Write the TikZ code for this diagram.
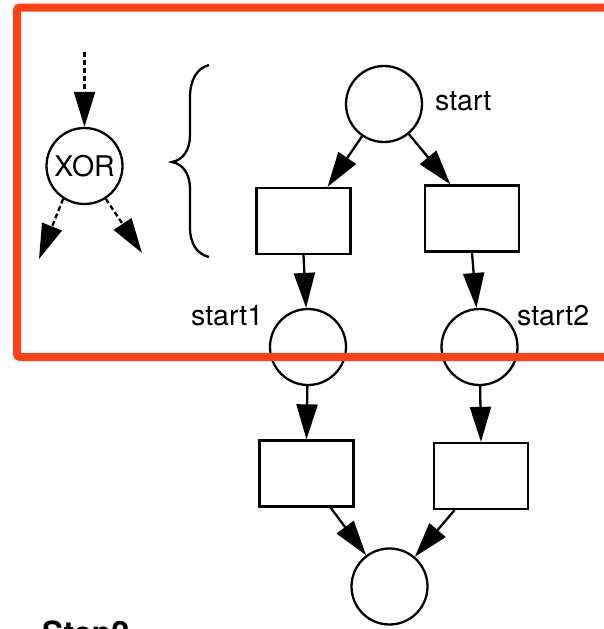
\documentclass[tikz,border=0pt]{standalone}
\usepackage{fontspec}
\setsansfont{TeX Gyre Heros}
\usetikzlibrary{arrows.meta, calc}

\definecolor{framered}{RGB}{255,66,22}

\begin{document}
\begin{tikzpicture}[x=1pt, y=-1pt,
    place/.style={draw, circle, line width=2.3pt, minimum size=76pt, inner sep=0pt,
      font=\sffamily\fontsize{28.5}{32}\selectfont},
    trans/.style={draw, rectangle, line width=2.3pt, minimum width=94pt, minimum height=66pt, inner sep=0pt},
    arc/.style={line width=2.3pt, -{Triangle[length=35pt, width=21pt]}},
    xorarc/.style={arc, dash pattern=on 5pt off 3pt},
    lbl/.style={font=\sffamily\fontsize{28.5}{32}\selectfont, anchor=base west, inner sep=0pt}]
  \useasboundingbox (0,0) rectangle (604,629);
  \clip (0,0) rectangle (604,629);

  % XOR split shorthand
  \node[place] (xor) at (84.5,166) {XOR};
  \coordinate (xin) at (84.5,52);
  \coordinate (xleft) at (39,259);
  \coordinate (xright) at (142,253);
  \draw[xorarc] (xin) -- (xor);
  \draw[xorarc] (xor.237) -- (xleft);
  \draw[xorarc] (xor.303) -- (xright);

  % Brace
  \draw[line width=2.3pt] (209,65) .. controls (197,68) and (190,80) .. (190,97) -- (190,135)
    .. controls (190,150) and (183,160) .. (172,162)
    .. controls (183,164) and (190,174) .. (190,189) -- (190,227)
    .. controls (190,244) and (197,254) .. (209,257);

  % Net
  \node[place] (start) at (384,104) {};
  \node[trans] (t1) at (303.5,221) {};
  \node[trans] (t2) at (472,218.5) {};
  \node[place] (p1) at (308,347) {};
  \node[place] (p2) at (479.5,347) {};
  \node[trans] (t3) at (306.5,473.5) {};
  \node[trans] (t4) at (481,476) {};
  \node[place] (end) at (389.5,586.5) {};

  \node[lbl] (lstart) at (435,110) {start};
  \node[lbl] (lp1) at (191,325) {start1};
  \node[lbl] (lp2) at (517,325) {start2};

  \draw[arc] (start) -- ($(t1.north)!0.5!(t1.north east)$);
  \draw[arc] (start) -- ($(t2.north)!0.45!(t2.north west)$);
  \draw[arc] (t1.south) -- (p1);
  \draw[arc] (t2.south) -- (p2);
  \draw[arc] (p1) -- (t3.north);
  \draw[arc] (p2) -- (t4.north);
  \draw[arc] ($(t3.south)!0.5!(t3.south east)$) -- (end);
  \draw[arc] ($(t4.south)!0.55!(t4.south west)$) -- (end);

  % Caption (cut off at the page edge)
  \node[font=\sffamily\bfseries\fontsize{32}{36}\selectfont, anchor=base west, inner sep=0pt] (step) at (42,644) {Step2};

  % Highlight frame
  \draw[framered, line width=8pt, rounded corners=3pt] (612,7.5) -- (17,7.5) -- (17,357) -- (612,357);
\end{tikzpicture}
\end{document}
